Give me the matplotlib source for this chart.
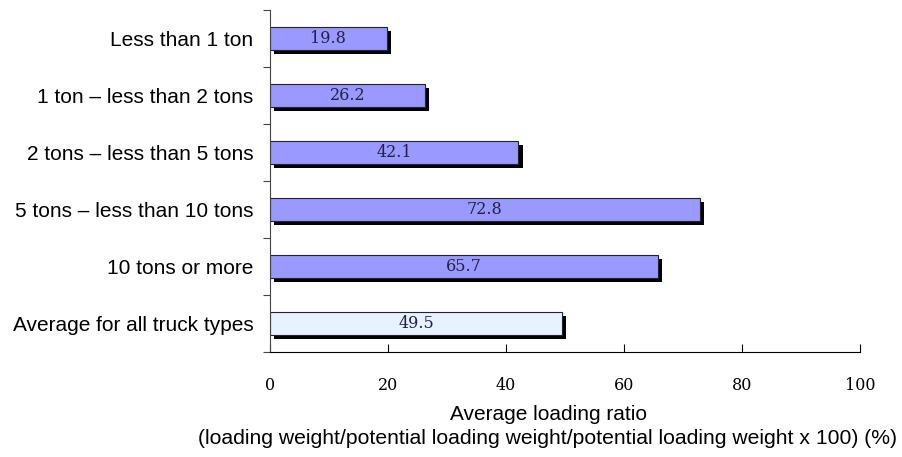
import numpy as np
import matplotlib.pyplot as plt
import matplotlib.patheffects as pe

categories = ['Less than 1 ton', '1 ton \u2013 less than 2 tons', '2 tons \u2013 less than 5 tons',
              '5 tons \u2013 less than 10 tons', '10 tons or more', 'Average for all truck types']
ratios = [19.8, 26.2, 42.1, 72.8, 65.7, 49.5]
xticks = [0, 20, 40, 60, 80, 100]

colors = ['#9999ff'] * 5 + ['#e6f2ff']

fig = plt.figure(figsize=(9.02, 4.57), dpi=100)
ax = fig.add_axes([270 / 902, 1 - 352 / 457, 590 / 902, 342 / 457])

ypos = np.arange(len(categories))
shadow = [pe.SimplePatchShadow(offset=(3, -3), shadow_rgbFace='black', alpha=1.0), pe.Normal()]
bars = ax.barh(ypos, ratios, height=0.4, color=colors, edgecolor='#222233', linewidth=0.8)
for b in bars:
    b.set_path_effects(shadow)

for y, v in zip(ypos, ratios):
    ax.text(v / 2, y, f'{v}', ha='center', va='center', fontsize=11.5,
            family='DejaVu Serif', color='#222244')

ax.set_xlim(0, 100)
ax.set_ylim(len(categories) - 0.5, -0.5)
ax.set_xticks(xticks)
ax.set_xticklabels([str(t) for t in xticks], family='DejaVu Serif', fontsize=11.5)
ax.tick_params(axis='x', direction='in', length=6, pad=18, color='black')

# category labels placed at bar centres, ticks at the boundaries
ax.set_yticks(np.arange(-0.5, len(categories), 1.0))
ax.set_yticklabels([])
ax.set_yticks(ypos, minor=True)
ax.set_yticklabels(categories, minor=True, family='Liberation Sans', fontsize=15)
ax.tick_params(axis='y', which='major', direction='out', length=5, color='#444444')
ax.tick_params(axis='y', which='minor', length=0, pad=12)

ax.spines['top'].set_visible(False)
ax.spines['right'].set_visible(False)
ax.spines['left'].set_color('#444444')

fig.text(549 / 902, 1 - 415 / 457, 'Average loading ratio', ha='center', va='center',
         family='Liberation Sans', fontsize=15)
fig.text(548 / 902, 1 - 439 / 457,
         '(loading weight/potential loading weight/potential loading weight x 100) (%)',
         ha='center', va='center', family='Liberation Sans', fontsize=15.2)

fig.savefig('out.png', dpi=100)
